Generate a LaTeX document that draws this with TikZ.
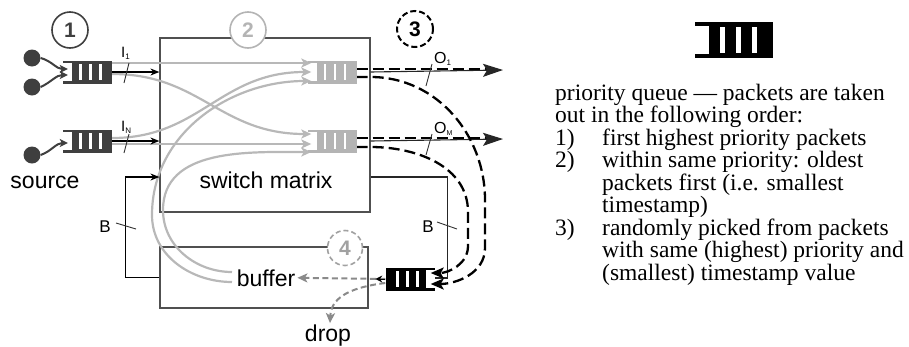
\documentclass[tikz,border=0pt]{standalone}
\usepackage{fontspec}
\setmainfont{Liberation Serif}
\newfontfamily\sansf{Liberation Sans}
\usetikzlibrary{arrows.meta,calc}
\definecolor{qdark}{HTML}{3F3F3F}
\definecolor{qgrey}{HTML}{B4B4B4}
\definecolor{lgrey}{HTML}{B8B8B8}
\definecolor{dgrey}{HTML}{8A8A8A}
\definecolor{boxc}{HTML}{505050}
\tikzset{
  pics/pq/.style={code={
    \fill[#1] (-15.5,-11.5) rectangle (24.5,11.5);
    \fill[#1] (-24.5,-11.5) rectangle (-15.4,-9);
    \fill[#1] (-24.5,9) rectangle (-15.4,11.5);
    \fill[white] (-8.5,-8) rectangle (-5.8,8);
    \fill[white] (1.5,-8) rectangle (4.2,8);
    \fill[white] (11.5,-8) rectangle (14.2,8);
  }},
  qnode/.style={minimum width=49pt,minimum height=23pt,inner sep=0pt,draw=none},
  gl/.style={draw=lgrey,line width=2.2pt,-{Stealth[length=10pt,width=9pt,inset=2.5pt]}},
  ba/.style={draw=black,line width=1.1pt,-{Stealth[length=9pt,width=7pt]}},
  bl/.style={draw=black!85,line width=1.1pt},
  dl/.style={draw=black,line width=2.3pt,dash pattern=on 11pt off 5pt},
  dlt/.style={dl,-{Stealth[length=13pt,width=11pt,inset=3pt]}},
  gdl/.style={draw=dgrey,line width=2pt,dash pattern=on 6pt off 3.5pt,-{Stealth[length=10pt,width=9pt,inset=2.5pt]}},
  tickln/.style={draw=black!80,line width=0.9pt},
  srca/.style={draw=qdark,line width=2pt,-{Stealth[length=8pt,width=8pt,inset=2pt]}},
  lbl/.style={font=\sansf\fontsize{23}{23}\selectfont,inner sep=0pt},
  smlbl/.style={font=\sansf\fontsize{17}{17}\selectfont,inner sep=0pt},
  numc/.style={circle,minimum size=36pt,inner sep=0pt,fill=white,line width=1.6pt,font=\sansf\bfseries\fontsize{21}{21}\selectfont},
  rt/.style={anchor=base west,inner sep=0pt,font=\fontsize{23.5}{23.5}\selectfont},
}
\begin{document}
\begin{tikzpicture}[x=1pt,y=-1pt]
\useasboundingbox (0,0) rectangle (909,346);

% boxes
\node[draw=boxc,line width=1.2pt,minimum width=210pt,minimum height=174pt,inner sep=0pt] (sw) at (265,125) {};
\node[draw=boxc,line width=1.2pt,minimum width=208pt,minimum height=61pt,inner sep=0pt] (bf) at (264,277.5) {};

% labels in boxes
\node[lbl,anchor=base] (swt) at (266,188) {switch matrix};
\node[lbl,anchor=base] (buft) at (266,286) {buffer};
\node[lbl,anchor=base] (src) at (45,188) {source};
\node[lbl,anchor=base] (drp) at (328,341) {drop};

% queue nodes
\node[qnode] (qa) at (87.5,72) {};
\node[qnode] (qb) at (87.5,141) {};
\node[qnode] (qc) at (332,72) {};
\node[qnode] (qd) at (332,141) {};
\node[qnode] (qe) at (410,279) {};
\node[qnode,minimum width=78pt,minimum height=36.6pt] (icon) at (734,40) {};

% sources
\node[circle,fill=qdark,minimum size=17pt,inner sep=0pt] (s1) at (32,58) {};
\node[circle,fill=qdark,minimum size=17pt,inner sep=0pt] (s2) at (32,87) {};
\node[circle,fill=qdark,minimum size=17pt,inner sep=0pt] (s3) at (32,155) {};
\draw[srca] (s1.east) to[out=-15,in=180] ([xshift=5pt,yshift=3pt]qa.west);
\draw[srca] (s2.east) to[out=25,in=180] ([xshift=5pt,yshift=-3pt]qa.west);
\draw[srca] (s3.east) to[out=20,in=180] ([xshift=5pt,yshift=-2pt]qb.west);

% grey switching lines
\coordinate (bo) at (232,282);
\coordinate (bi) at (232,272);
\draw[gl] ([yshift=9pt]qa.east) -- ([xshift=4pt,yshift=9pt]qc.west);
\draw[gl] ([yshift=-2pt]qa.east) .. controls (200,74) and (220,134) .. ([xshift=4pt,yshift=7pt]qd.west);
\draw[gl] ([yshift=3pt]qb.east) .. controls (200,138) and (220,72) .. ([xshift=4pt]qc.west);
\draw[gl] ([yshift=-3pt]qb.east) -- ([xshift=4pt,yshift=-3pt]qd.west);
\draw[gl] (bo) to[out=180,in=-90] (152,215) to[out=90,in=180] ([xshift=4pt,yshift=-9pt]qc.west);
\draw[gl] (bi) to[out=180,in=-90] (163,210) to[out=90,in=180] ([xshift=4pt,yshift=-11pt]qd.west);

% black input arrows
\draw[ba] (qa.east) -- (qa.east -| sw.west);
\draw[ba] (qb.east) -- (qb.east -| sw.west);
\draw[ba] (bf.west) -- ++(-34,0) |- ([yshift=-52pt]sw.west);
\draw[bl] ([yshift=-52pt]sw.east) -- ++(77,0) |- ([yshift=1pt]qe.east);

% outputs
\draw[dl] ([yshift=3pt]qc.east) -- (488,69);
\draw[dl] ([yshift=3pt]qd.east) -- (488,138);
\coordinate (o1) at (503,70);
\coordinate (oM) at (503,139);
\draw[bl,-{Stealth[length=20pt,width=13pt,inset=4pt]}] (sw.east |- qc.east) -- (o1);
\draw[bl,-{Stealth[length=20pt,width=13pt,inset=4pt]}] (sw.east |- qd.east) -- (oM);
\draw[dlt] ([yshift=-5pt]qc.east) -- ++(14,0) to[out=0,in=90] (485,200) -- (485,248) to[out=-90,in=0] ([xshift=-4pt,yshift=-5pt]qe.east);
\draw[dlt] ([yshift=-6pt]qd.east) -- ++(14,0) to[out=0,in=90] (468,212) -- (468,246) to[out=-90,in=0] ([xshift=-4pt,yshift=6pt]qe.east);

% out of priority queue
\draw[gdl] (qe.west) -- ([xshift=2pt]buft.east);
\draw[gdl] ([yshift=-4pt]qe.west) .. controls (345,288) and (331,300) .. ([xshift=2pt,yshift=1pt]drp.north);
\draw[draw=black,line width=1pt,-{Stealth[length=7pt,width=7pt]}] (qe.west) -- ++(-10,0);

% queues
\pic at (qa) {pq=qdark};
\pic at (qb) {pq=qdark};
\pic at (qc) {pq=qgrey};
\pic at (qd) {pq=qgrey};
\pic[xscale=-1] at (qe) {pq=black};
\pic[scale=1.59] at (icon) {pq=black};

% ticks and labels
\draw[tickln] (124,83) -- (129,63);
\draw[tickln] (124,153) -- (129,134);
\node[anchor=base west,inner sep=0pt,font=\sansf\fontsize{15}{15}\selectfont] (i1) at (121,57) {I\raisebox{-2.5pt}{\fontsize{8}{8}\selectfont 1}};
\node[anchor=base west,inner sep=0pt,font=\sansf\fontsize{15}{15}\selectfont] (iN) at (121,131) {I\raisebox{-2.5pt}{\fontsize{8}{8}\selectfont N}};
\draw[tickln] (426,86) -- (432,64);
\draw[tickln] (426,155) -- (432,134);
\node[anchor=base west,inner sep=0pt,font=\sansf\fontsize{16}{16}\selectfont] (o1l) at (434,63) {O\raisebox{-2.5pt}{\fontsize{8}{8}\selectfont 1}};
\node[anchor=base west,inner sep=0pt,font=\sansf\fontsize{16}{16}\selectfont] (oMl) at (434,133) {O\raisebox{-2.5pt}{\fontsize{7}{7}\selectfont M}};
\draw[tickln] (116,223) -- (136,229);
\node[smlbl] (bl1) at (105,227) {B};
\draw[tickln] (437,222) -- (457,229);
\node[smlbl] (bl2) at (428,227) {B};

% numbered circles
\node[numc,draw=black!75,text=black!75] (c1) at (70,30) {1};
\node[numc,draw=qgrey,text=qgrey] (c2) at (248,30) {2};
\node[numc,draw=black,text=black,dash pattern=on 6pt off 3pt,line width=2pt] (c3) at (415,29) {3};
\node[numc,draw=dgrey!80,text=dgrey!80,dash pattern=on 5pt off 3pt,minimum size=35pt] (c4) at (345,248) {4};

% legend text
\node[rt] (t1) at (555,100) {priority queue — packets are taken};
\node[rt] (t2) at (555,122.5) {out in the following order:};
\node[rt] (k1) at (555,145) {1)};
\node[rt] (t3) at (602,145) {first highest priority packets};
\node[rt] (k2) at (555,167.5) {2)};
\node[rt] (t4) at (602,167.5) {within same priority: oldest};
\node[rt] (t5) at (602,190) {packets first (i.e. smallest};
\node[rt] (t6) at (602,212.5) {timestamp)};
\node[rt] (k3) at (555,235) {3)};
\node[rt] (t7) at (602,235) {randomly picked from packets};
\node[rt] (t8) at (602,257.5) {with same (highest) priority and};
\node[rt] (t9) at (602,280) {(smallest) timestamp value};
\end{tikzpicture}
\end{document}
